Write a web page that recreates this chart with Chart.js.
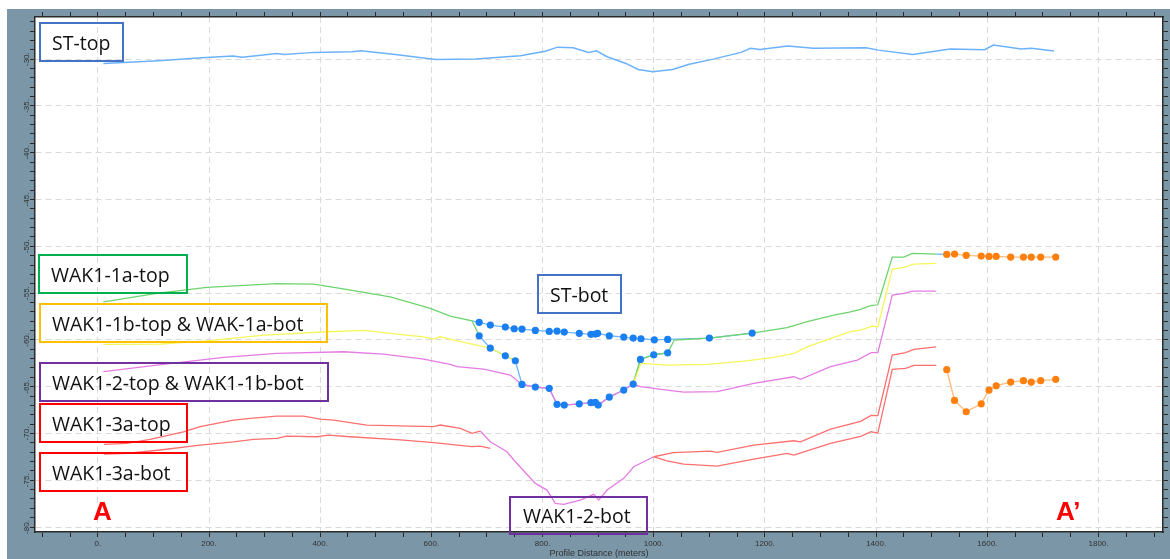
<!DOCTYPE html>
<html>
<head>
<meta charset="utf-8">
<script src="https://cdn.jsdelivr.net/npm/chart.js@4.4.0/dist/chart.umd.min.js"></script>
<style>
  body { margin: 0; background: #fff; width: 1170px; height: 559px; overflow: hidden; position: relative; }
  #frame { position: absolute; left: 7px; top: 9px; width: 1163px; height: 550px; background: #7a96a7; }
  .tag { position: absolute; box-sizing: border-box; border: 2px solid; display: flex; align-items: center;
         padding-left: 11px; font-family: "Open Sans", sans-serif; font-size: 19.5px; color: #111; white-space: nowrap; }
  .end { position: absolute; font-family: "Liberation Sans", Arial, sans-serif; font-weight: bold; font-size: 26px; color: #ff0000; }
</style>
</head>
<body>
<div id="frame"><canvas id="profile"></canvas></div>

<div class="tag" style="left:39px;top:22px;width:85px;height:40px;border-color:#4472c4">ST-top</div>
<div class="tag" style="left:38px;top:254px;width:150px;height:40px;border-color:#00b050">WAK1-1a-top</div>
<div class="tag" style="left:39px;top:303px;width:289px;height:40px;border-color:#ffc000">WAK1-1b-top &amp; WAK-1a-bot</div>
<div class="tag" style="left:39px;top:362px;width:290px;height:40px;border-color:#7030a0">WAK1-2-top &amp; WAK1-1b-bot</div>
<div class="tag" style="left:39px;top:403px;width:149px;height:40px;border-color:#ff0000">WAK1-3a-top</div>
<div class="tag" style="left:39px;top:452px;width:149px;height:40px;border-color:#ff0000">WAK1-3a-bot</div>
<div class="tag" style="left:537px;top:274px;width:85px;height:40px;border-color:#4472c4">ST-bot</div>
<div class="tag" style="left:509px;top:496px;width:139px;height:39px;border-color:#7030a0;padding-left:12px">WAK1-2-bot</div>
<div class="end" style="left:93px;top:496px">A</div>
<div class="end" style="left:1056px;top:496px">A’</div>

<script>
// axis extents (meters / elevation)
const X_MIN = -113, X_MAX = 1916;
const Y_MIN = -80.53, Y_MAX = -25.5;
const yTickLabels = [-30, -35, -40, -45, -50, -55, -60, -65, -70, -75, -80];

// ST-top
const stTopX = [10, 109, 187, 243, 260, 322, 335, 389, 457, 473, 535, 608, 680, 760, 805, 827, 855, 883, 897, 916,
                950, 972, 998, 1034, 1062, 1107, 1157, 1174, 1191, 1241, 1287, 1382, 1404, 1466, 1533, 1595, 1611, 1661, 1679, 1720];
const stTopY = [-30.46, -30.18, -29.86, -29.68, -29.79, -29.39, -29.5, -29.28, -29.22, -29.11, -29.5, -30.04, -29.99, -29.65, -29.15, -28.72, -28.79, -29.28, -29.11, -29.75,
                -30.46, -31.1, -31.35, -31.1, -30.57, -30.0, -29.28, -28.85, -28.97, -28.6, -28.85, -28.79, -29.04, -29.5, -28.93, -29.0, -28.5, -28.93, -28.85, -29.13];

// WAK1-1a-top (null = break in the horizon)
const wak1aTopX = [10, 106, 196, 322, 388, 436, 526, 598, 634, 673, 686, 820, 963, 976, 1000, 1025, 1037, 1100, 1177,
                   1240, 1276, 1324, 1354, 1372, 1390, 1403, 1429, 1450, 1465, 1508];
const wak1aTopY = [-55.93, -55.03, -54.39, -54.0, -54.04, -54.5, -55.4, -56.64, -57.46, -57.96, -59.56, null, -64.72, -62.09, -61.59, -61.38, -60.02, -59.81, -59.27,
                   -58.7, -58.06, -57.35, -57.0, -56.74, -56.35, -56.25, -51.15, -51.15, -50.76, -50.83];

// WAK1-1b-top & WAK-1a-bot
const wak1bTopX = [10, 112, 196, 300, 412, 478, 526, 586, 604, 616, 646, 673, 706, 733, 751, 850, 963, 977, 1024, 1096,
                   1162, 1216, 1252, 1276, 1324, 1354, 1372, 1393, 1403, 1429, 1450, 1468, 1508];
const wak1bTopY = [-60.48, -60.45, -60.1, -59.5, -59.13, -58.99, -59.31, -59.67, -59.91, -59.67, -60.1, -60.45, -60.88, -61.7, -62.23, null, -64.72, -62.51, -62.69, -62.62,
                   -62.27, -61.87, -61.45, -60.74, -59.73, -59.13, -58.95, -58.53, -58.6, -52.47, -52.26, -51.9, -51.83];

// WAK1-2-top & WAK1-1b-bot
const wak2TopX = [10, 106, 226, 322, 442, 514, 586, 634, 646, 694, 742, 763, 787, 812, 826, 839, 866, 887, 895, 900, 920, 946, 963,
                  976, 1024, 1054, 1114, 1180, 1252, 1264, 1318, 1366, 1391, 1403, 1429, 1450, 1465, 1508];
const wak2TopY = [-63.4, -62.69, -61.87, -61.45, -61.27, -61.52, -62.05, -62.62, -62.87, -63.12, -63.76, -64.76, -65.04, -65.18, -66.89, -66.97, -66.83, -66.71, -66.68, -66.97, -66.11, -65.36, -64.72,
                  -65.0, -65.36, -65.58, -65.54, -64.65, -63.94, -64.22, -62.87, -62.16, -61.37, -61.37, -55.21, -55.03, -54.79, -54.79];

// WAK1-2-bot
const wak2BotX = [688, 706, 736, 751, 787, 808, 823, 838, 868, 892, 901, 916, 946, 964, 1000];
const wak2BotY = [-69.74, -70.89, -71.96, -73.02, -75.34, -76.05, -77.47, -77.58, -77.12, -76.51, -77.12, -76.05, -74.8, -73.56, -72.49];

// WAK1-3a-top
const wak3TopX = [11, 52, 94, 154, 184, 244, 274, 322, 370, 400, 424, 484, 544, 604, 616, 652, 673, 688, 850,
                  1000, 1035, 1102, 1114, 1180, 1252, 1264, 1318, 1372, 1391, 1403, 1429, 1453, 1468, 1508];
const wak3TopY = [-71.17, -71.06, -70.63, -69.82, -69.28, -68.57, -68.39, -68.14, -68.14, -68.46, -68.57, -69.1, -69.2, -69.28, -69.1, -69.46, -69.99, -69.74, null,
                  -72.49, -72.04, -71.88, -72.02, -71.24, -70.78, -70.89, -69.53, -68.7, -68.07, -68.1, -61.62, -61.37, -61.02, -60.74];

// WAK1-3a-bot
const wak3BotX = [11, 52, 112, 184, 244, 280, 322, 340, 394, 415, 454, 544, 604, 664, 673, 688, 706, 850,
                  1000, 1024, 1054, 1114, 1180, 1240, 1252, 1318, 1372, 1391, 1403, 1429, 1453, 1468, 1508];
const wak3BotY = [-72.2, -72.13, -71.77, -71.24, -70.89, -70.63, -70.53, -70.28, -70.35, -70.17, -70.35, -70.68, -70.99, -71.35, -71.41, -71.35, -71.6, null,
                  -72.49, -72.92, -73.27, -73.5, -72.75, -72.13, -72.31, -71.06, -70.3, -69.82, -69.96, -63.15, -63.04, -62.72, -62.72];

// ST-bot picks
const stBotUpperX = [686, 706, 733, 749, 763, 787, 812, 826, 839, 866, 887, 895, 899, 920, 946, 963, 977, 1001, 1025, 1100, 1177];
const stBotUpperY = [-58.13, -58.42, -58.63, -58.81, -58.85, -58.99, -59.1, -59.06, -59.17, -59.3, -59.41, -59.38, -59.3, -59.56, -59.7, -59.81, -59.88, -59.99, -59.95, -59.81, -59.27];
const stBotLowerX = [686, 706, 733, 751, 763, 787, 812, 826, 839, 866, 887, 895, 900, 920, 946, 963, 976, 1000, 1025];
const stBotLowerY = [-59.56, -60.88, -61.7, -62.23, -64.76, -65.04, -65.18, -66.89, -66.97, -66.83, -66.71, -66.68, -66.97, -66.11, -65.36, -64.72, -62.09, -61.59, -61.38];

// picks east of the section end
const eastX = [1527, 1541, 1562, 1589, 1603, 1616, 1642, 1665, 1679, 1696, 1723];
const eastUpperY = [-50.87, -50.83, -50.97, -51.05, -51.08, -51.08, -51.15, -51.15, -51.15, -51.15, -51.15];
const eastLowerY = [-63.19, -66.47, -67.68, -66.83, -65.36, -64.9, -64.51, -64.36, -64.51, -64.36, -64.22];

const pts = (xs, ys) => xs.map((x, i) => ({ x, y: ys[i] }));

function line(data, color, order, width) {
  return { data, borderColor: color, borderWidth: width || 1.3, pointRadius: 0, showLine: true,
           spanGaps: false, tension: 0, order };
}
function dots(data, color, order) {
  return { data, backgroundColor: color, borderColor: color, pointRadius: 3.6, borderWidth: 0, showLine: false, order };
}

const stBlueLine = '#6db5ff', stBlueDot = '#1a7ff0';
const orangeLine = '#ffbb77', orangeDot = '#ff7f0e';

const datasets = [
  line(pts([wak1aTopX[9]].concat(stBotUpperX), [wak1aTopY[9]].concat(stBotUpperY)), stBlueLine, 6),
  line(pts(stBotLowerX, stBotLowerY), stBlueLine, 6),
  line([{ x: wak1aTopX[wak1aTopX.length - 1], y: wak1aTopY[wak1aTopY.length - 1] }, { x: eastX[0], y: eastUpperY[0] }], stBlueLine, 6),
  line(pts(eastX, eastUpperY), orangeLine, 6),
  line(pts(eastX, eastLowerY), orangeLine, 6),
  line(pts(stTopX, stTopY), '#6cb2fb', 2, 1.5),
  line(pts(wak3BotX, wak3BotY), '#ff6f6f', 3),
  line(pts(wak2BotX, wak2BotY), '#e47ce4', 3),
  line(pts(wak3TopX, wak3TopY), '#ff6f6f', 3),
  line(pts(wak2TopX, wak2TopY), '#e47ce4', 3),
  line(pts(wak1bTopX, wak1bTopY), '#f6f65a', 3),
  line(pts(wak1aTopX, wak1aTopY), '#6dd46d', 3),
  dots(pts(stBotUpperX, stBotUpperY), stBlueDot, 0),
  dots(pts(stBotLowerX, stBotLowerY), stBlueDot, 0),
  dots(pts(eastX, eastUpperY), orangeDot, 0),
  dots(pts(eastX, eastLowerY), orangeDot, 0)
];

const axisColor = '#2a2a2a';
const gridColor = '#dadada';

const plotBackground = {
  id: 'plotBackground',
  beforeDraw(chart) {
    const { ctx, chartArea: a } = chart;
    ctx.save();
    ctx.fillStyle = '#fff';
    ctx.fillRect(a.left, a.top, a.right - a.left, a.bottom - a.top);
    ctx.restore();
  }
};

// elevation labels run bottom-to-top beside the left axis
const elevationLabels = {
  id: 'elevationLabels',
  afterDraw(chart) {
    const { ctx, scales: { y } } = chart;
    ctx.save();
    ctx.font = '8px "Liberation Sans", Arial, sans-serif';
    ctx.fillStyle = '#333';
    ctx.textAlign = 'center';
    ctx.textBaseline = 'middle';
    yTickLabels.forEach(v => {
      ctx.save();
      ctx.translate(y.right - 8, y.getPixelForValue(v));
      ctx.rotate(-Math.PI / 2);
      ctx.fillText(v + '.', 0, 0);
      ctx.restore();
    });
    ctx.restore();
  }
};

new Chart(document.getElementById('profile'), {
  type: 'scatter',
  data: { datasets },
  options: {
    responsive: true,
    maintainAspectRatio: false,
    animation: false,
    layout: { padding: 0 },
    plugins: { legend: { display: false }, tooltip: { enabled: false } },
    scales: {
      x: {
        type: 'linear', position: 'bottom', min: X_MIN, max: X_MAX,
        ticks: {
          stepSize: 50, autoSkip: false, maxRotation: 0, minRotation: 0, includeBounds: false, padding: 2,
          color: '#333', font: { family: 'Liberation Sans', size: 8 },
          callback: v => (v % 200 === 0 ? v + '.' : '')
        },
        grid: {
          color: c => (c.tick && c.tick.value % 200 === 0 ? gridColor : 'rgba(0,0,0,0)'),
          tickColor: axisColor, tickLength: 5, lineWidth: 1
        },
        border: { color: axisColor, width: 1.5, dash: [6, 4] },
        title: {
          display: true, text: 'Profile Distance (meters)', color: '#333',
          font: { family: 'Liberation Sans', size: 9 }, padding: 0
        },
        afterFit: s => { s.height = 27; }
      },
      xTop: {
        type: 'linear', position: 'top', min: X_MIN, max: X_MAX,
        ticks: { display: false, stepSize: 50, includeBounds: false },
        grid: { drawOnChartArea: false, tickColor: axisColor, tickLength: 5 },
        border: { color: axisColor, width: 1.5 },
        afterFit: s => { s.height = 8; }
      },
      y: {
        type: 'linear', position: 'left', min: Y_MIN, max: Y_MAX,
        ticks: { display: false, stepSize: 1, includeBounds: false },
        grid: {
          color: c => (c.tick && c.tick.value % 5 === 0 ? gridColor : 'rgba(0,0,0,0)'),
          tickColor: axisColor, tickLength: 5, lineWidth: 1
        },
        border: { color: axisColor, width: 1.5, dash: [6, 4] },
        afterFit: s => { s.width = 28; }
      },
      yRight: {
        type: 'linear', position: 'right', min: Y_MIN, max: Y_MAX,
        ticks: { display: false, stepSize: 1, includeBounds: false },
        grid: { drawOnChartArea: false, tickColor: axisColor, tickLength: 5 },
        border: { color: axisColor, width: 1.5 },
        afterFit: s => { s.width = 7; }
      }
    }
  },
  plugins: [plotBackground, elevationLabels]
});
</script>
</body>
</html>
